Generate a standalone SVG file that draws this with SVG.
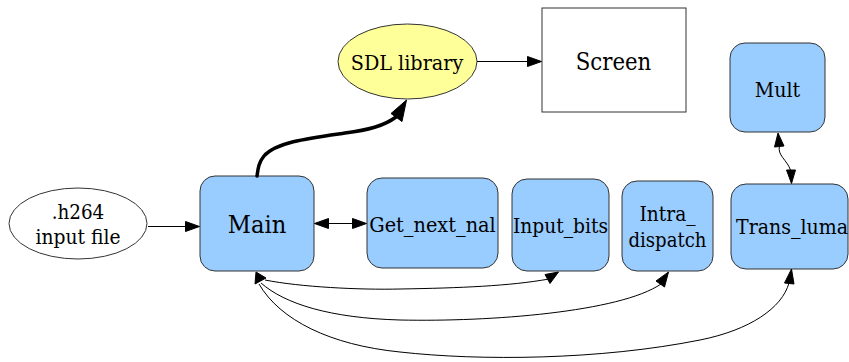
<svg xmlns="http://www.w3.org/2000/svg" width="849" height="362" viewBox="0 0 849 362">
  <defs>
    <style>
      .box { fill: #99ccff; stroke: #333; stroke-width: 1; }
      .plain { fill: #ffffff; stroke: #333; stroke-width: 1; }
      .lib { fill: #ffff99; stroke: #333; stroke-width: 1; }
      text { font-family: 'DejaVu Serif Condensed', 'DejaVu Serif', 'Liberation Serif', serif; font-stretch: condensed; font-size: 21px; fill: #000; text-anchor: middle; }
      text.big { font-size: 25px; }
      .edge { fill: none; stroke: #000; stroke-width: 1; }
      .thick { fill: none; stroke: #000; stroke-width: 3.5; stroke-linecap: round; }
      .head { fill: #000; stroke: #000; stroke-width: 1; }
    </style>
  </defs>

  <rect width="849" height="362" fill="#ffffff"/>

  <!-- nodes -->
  <g id="input_file">
    <ellipse class="plain" cx="78" cy="223.5" rx="69" ry="35.5"/>
    <text x="78" y="219" textLength="52.6" lengthAdjust="spacingAndGlyphs">.h264</text>
    <text x="78" y="244" textLength="85" lengthAdjust="spacingAndGlyphs">input file</text>
  </g>
  <g id="sdl_library">
    <ellipse class="lib" cx="407.5" cy="61.5" rx="69.5" ry="37.5"/>
    <text x="407" y="70" textLength="112.5" lengthAdjust="spacingAndGlyphs">SDL library</text>
  </g>
  <g id="screen">
    <rect class="plain" x="542" y="8" width="144" height="104"/>
    <text class="big" x="613.5" y="70" textLength="75.5" lengthAdjust="spacingAndGlyphs">Screen</text>
  </g>
  <g id="main">
    <rect class="box" x="200" y="176" width="114" height="95" rx="15" ry="15"/>
    <text class="big" x="257" y="233" textLength="58.5" lengthAdjust="spacingAndGlyphs">Main</text>
  </g>
  <g id="get_next_nal">
    <rect class="box" x="367" y="178" width="131" height="90" rx="15" ry="15"/>
    <text x="432.5" y="232" textLength="126.5" lengthAdjust="spacingAndGlyphs">Get_next_nal</text>
  </g>
  <g id="input_bits">
    <rect class="box" x="512" y="179" width="97" height="92" rx="15" ry="15"/>
    <text x="560.5" y="232.5" textLength="95" lengthAdjust="spacingAndGlyphs">Input_bits</text>
  </g>
  <g id="intra_dispatch">
    <rect class="box" x="622" y="181" width="91" height="90" rx="15" ry="15"/>
    <text x="667.5" y="221" textLength="56" lengthAdjust="spacingAndGlyphs">Intra_</text>
    <text x="667.5" y="247" textLength="78" lengthAdjust="spacingAndGlyphs">dispatch</text>
  </g>
  <g id="mult">
    <rect class="box" x="730" y="43" width="95" height="89" rx="15" ry="15"/>
    <text x="777.5" y="97" textLength="45.5" lengthAdjust="spacingAndGlyphs">Mult</text>
  </g>
  <g id="trans_luma">
    <rect class="box" x="731" y="184" width="117" height="85" rx="15" ry="15"/>
    <text x="792" y="234" textLength="112" lengthAdjust="spacingAndGlyphs">Trans_luma</text>
  </g>

  <!-- connectors -->
  <g id="connectors">
    <!-- input file to Main -->
    <path class="edge" d="M148,226.5 L186,226.5"/>
    <polygon class="head" points="199.5,226.5 185.5,221.5 185.5,231.5"/>

    <!-- SDL library to Screen -->
    <path class="edge" d="M477,61.5 L528,61.5"/>
    <polygon class="head" points="541.5,61.5 527.5,56.5 527.5,66.5"/>

    <!-- Main to SDL library (thick) -->
    <path class="thick" d="M257,176 C258,168 259,162 264,156 C276,142 310,138 345,133 C368,130 384,126 396,117"/>
    <polygon class="head" points="406.5,100 391,113.5 402,121.5" stroke-width="2"/>

    <!-- Main and Get_next_nal -->
    <path class="edge" d="M328,223.5 L353,223.5"/>
    <polygon class="head" points="314.5,223.5 328.5,218.5 328.5,228.5"/>
    <polygon class="head" points="366.5,223.5 352.5,218.5 352.5,228.5"/>

    <!-- Mult and Trans_luma -->
    <path class="edge" d="M779.5,146 C777,155 787,160 790.5,170"/>
    <polygon class="head" points="778,133 774.5,147 784,146"/>
    <polygon class="head" points="791.5,183.5 786.5,170 795.5,170"/>

    <!-- Main and the lower blocks -->
    <polygon class="head" points="256,272 255,284 266,278"/>
    <path class="edge" d="M265,280 C300,287 360,290 400,289 C460,288 510,286 549,279"/>
    <polygon class="head" points="558.5,272 545,274.5 550,283.5"/>

    <path class="edge" d="M261,283 C285,304 330,318 400,320 C490,322 620,312 661,284"/>
    <polygon class="head" points="668.5,272 656,281 664.5,287"/>

    <path class="edge" d="M259,284 C280,320 330,345 400,352 C480,361 600,360 700,340 C750,330 782,308 789,283"/>
    <polygon class="head" points="791.5,269 784.5,283 794,284"/>
  </g>
</svg>
